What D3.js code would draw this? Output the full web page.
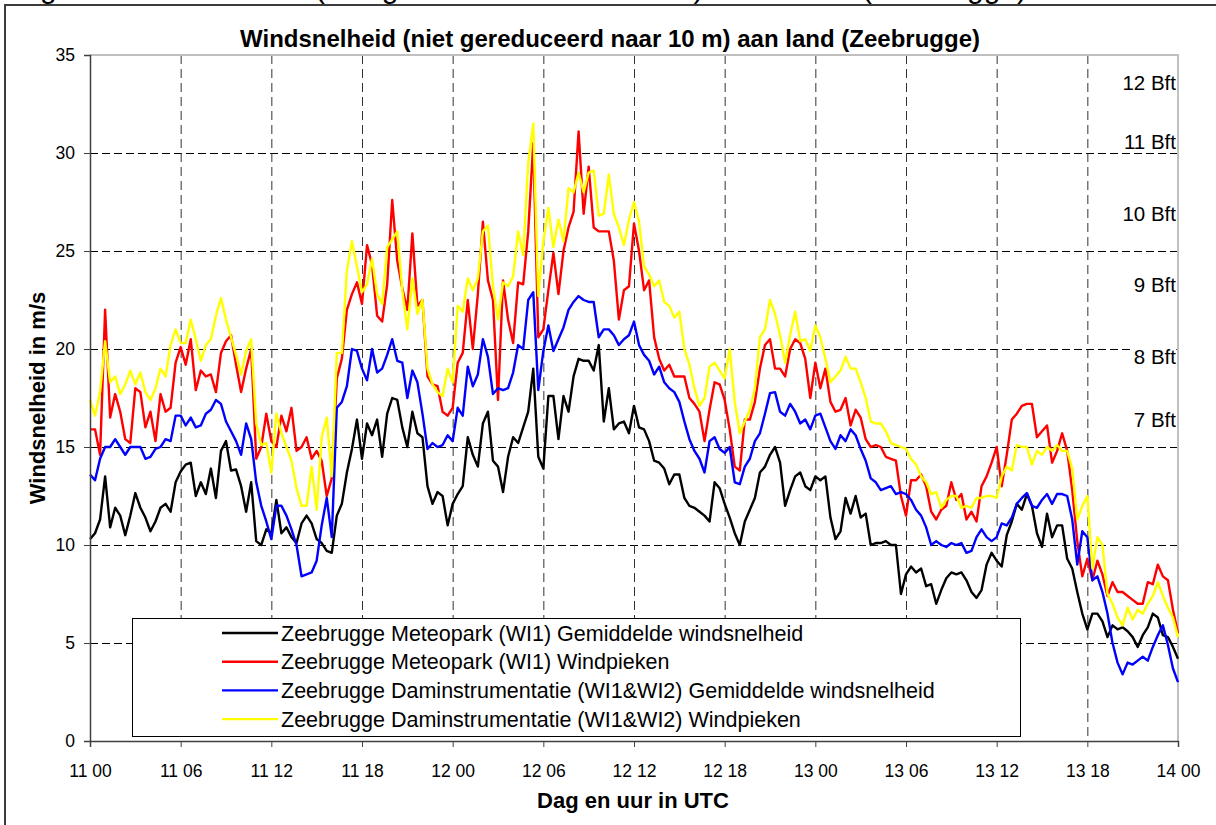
<!DOCTYPE html>
<meta charset="utf-8" />
<head>
  <style>
    body {margin: 0; background: #fff;}
    svg text {font-family: "Liberation Sans", Arial, sans-serif; fill: #000;}
    .grid line {stroke: #000; stroke-width: 1; stroke-dasharray: 8,4;}
    .vgrid line {stroke: #333; stroke-width: 1; stroke-dasharray: 9,5;}
    .serie {fill: none; stroke-width: 2.4; stroke-linejoin: round;}
    .as line, .as path {stroke: #404040;}
  </style>
  <script src="https://cdn.jsdelivr.net/npm/d3@7"></script>
</head>
<body>
<script>
  // metingen om de 20 minuten, 11/00 tot 14/00 UTC
  var stapMinuten = 20;

  var meteoGem = [
    10.3, 10.6, 11.3, 13.5, 10.9, 11.9, 11.5, 10.5, 11.5, 12.65,
    11.9, 11.4, 10.7, 11.2, 11.9, 12.1, 11.7, 13.2, 13.75, 14.1,
    14.2, 12.5, 13.2, 12.6, 13.9, 12.4, 14.8, 15.3, 13.8, 13.85,
    13.0, 11.7, 13.2, 10.2, 10.0, 10.8, 10.6, 12.3, 10.6, 10.9,
    10.4, 10.1, 11.1, 11.5, 11.1, 10.3, 10.1, 9.7, 9.6, 11.5,
    12.1, 13.7, 14.9, 16.4, 14.4, 16.2, 15.6, 16.4, 14.5, 16.7,
    17.5, 17.4, 16.0, 15.0, 16.8, 15.7, 15.5, 13.0, 12.1, 12.7,
    12.5, 11.0, 12.1, 12.6, 13.0, 15.5, 14.6, 14.0, 16.2, 16.8,
    14.3, 14.0, 12.7, 14.5, 15.5, 15.2, 16.0, 16.8, 19.0, 14.5,
    13.9, 17.6, 17.6, 15.4, 17.6, 16.8, 18.6, 19.5, 19.4, 19.4,
    18.9, 20.2, 16.3, 18.0, 15.9, 16.2, 16.3, 15.7, 17.1, 16.0,
    15.9, 15.3, 14.3, 14.2, 13.9, 13.1, 13.6, 13.6, 12.4, 12.0,
    11.9, 11.7, 11.5, 11.2, 13.2, 12.9, 12.1, 11.4, 10.6, 10.0,
    11.2, 11.8, 12.4, 13.7, 14.0, 14.6, 15.0, 14.2, 12.0, 12.8,
    13.5, 13.7, 13.0, 12.8, 13.5, 13.3, 13.5, 11.4, 10.3, 10.7,
    12.4, 11.6, 12.5, 11.4, 11.6, 10.0, 10.1, 10.1, 10.2, 10.0,
    10.0, 7.5, 8.5, 8.9, 8.6, 8.8, 7.9, 8.0, 7.0, 7.7,
    8.3, 8.6, 8.5, 8.6, 8.2, 7.6, 7.3, 7.7, 9.0, 9.6,
    9.2, 8.9, 10.5, 11.2, 12.1, 11.8, 12.6, 12.0, 10.6, 9.9,
    11.6, 10.4, 11.0, 11.0, 9.3, 8.8, 7.6, 6.5, 5.7, 6.5,
    6.5, 6.1, 5.3, 5.9, 5.7, 5.8, 5.6, 5.3, 4.8, 5.4,
    5.8, 6.5, 6.3, 5.4, 5.3, 4.8, 4.2
  ];

  var meteoPiek = [
    15.9, 15.9, 14.6, 22.0, 16.5, 17.7, 16.8, 15.4, 15.2, 18.0,
    17.8, 16.0, 16.8, 15.3, 17.7, 16.8, 17.0, 19.3, 20.1, 19.2,
    20.5, 17.9, 18.9, 18.6, 18.7, 17.8, 19.8, 20.4, 20.7, 19.2,
    17.8, 19.0, 20.0, 14.4, 15.0, 16.7, 15.3, 15.0, 16.6, 15.8,
    17.0, 14.8, 15.0, 15.5, 14.4, 14.8, 14.3, 12.5, 13.4, 18.5,
    19.5, 22.0, 22.8, 23.4, 22.3, 25.3, 24.3, 21.7, 21.4, 23.3,
    27.6, 24.5, 23.1, 22.0, 25.9, 22.2, 22.5, 18.6, 18.2, 18.1,
    16.8, 16.6, 17.0, 19.3, 19.8, 22.5, 20.0, 22.8, 26.5, 23.5,
    22.5, 17.4, 23.5, 21.5, 20.3, 23.4, 23.3, 26.0, 30.5, 20.6,
    21.0, 23.0, 24.9, 22.8, 25.0, 26.2, 27.0, 31.1, 26.9, 29.3,
    26.2, 26.0, 26.0, 26.0, 24.5, 21.5, 23.0, 23.2, 26.4, 25.0,
    23.0, 23.5, 20.6, 19.5, 18.9, 19.2, 18.6, 18.6, 18.6, 17.5,
    17.2, 16.8, 15.3, 16.9, 18.3, 18.2, 17.4, 15.9, 14.0, 13.8,
    16.4, 16.4, 17.3, 19.0, 20.2, 20.5, 19.0, 19.0, 18.6, 20.0,
    20.5, 20.3, 19.5, 17.5, 19.3, 18.0, 19.0, 17.3, 16.8, 16.9,
    17.5, 16.1, 16.9, 16.5, 15.4, 15.0, 15.1, 15.0, 14.5, 14.4,
    14.3, 12.5, 11.5, 13.3, 13.3, 13.6, 13.0, 11.7, 11.3, 11.8,
    12.0, 13.2, 12.3, 12.6, 11.3, 11.7, 11.2, 13.0, 13.5, 14.2,
    15.0, 13.0, 14.6, 16.4, 16.7, 17.1, 17.2, 17.2, 15.5, 15.8,
    16.1, 14.2, 14.8, 15.7, 14.8, 12.8, 10.2, 8.4, 9.3, 8.2,
    9.2, 8.5, 7.4, 8.1, 7.6, 7.6, 7.4, 7.2, 7.0, 7.0,
    8.1, 8.0, 9.0, 8.4, 8.2, 6.7, 5.5
  ];

  var damGem = [
    13.6, 13.3, 14.4, 15.0, 15.0, 15.4, 15.0, 14.6, 15.0, 15.0,
    15.0, 14.4, 14.5, 14.9, 15.0, 15.4, 15.3, 16.6, 16.6, 16.1,
    16.5, 16.0, 16.1, 16.7, 16.9, 17.4, 17.2, 16.3, 15.8, 15.3,
    14.6, 16.2, 15.4, 13.2, 12.0, 11.2, 10.3, 12.0, 12.0, 11.5,
    10.8, 10.0, 8.4, 8.5, 8.6, 9.2, 11.0, 12.4, 10.4, 17.0,
    17.3, 18.1, 20.0, 19.9, 19.0, 18.4, 20.0, 18.8, 19.0, 19.7,
    20.5, 19.4, 19.3, 17.5, 18.9, 18.3, 16.7, 14.9, 15.2, 15.0,
    15.1, 15.6, 15.3, 17.0, 16.6, 19.1, 18.1, 18.7, 20.5, 19.6,
    17.7, 18.0, 17.9, 18.0, 18.8, 20.2, 20.0, 22.5, 22.9, 17.9,
    19.9, 21.2, 19.9, 20.5, 21.1, 22.0, 22.4, 22.7, 22.5, 22.4,
    22.4, 20.6, 21.0, 21.0, 20.7, 20.2, 20.5, 20.7, 21.4, 20.2,
    19.7, 19.4, 18.7, 19.1, 18.3, 18.0, 17.8, 17.3, 16.3, 15.4,
    14.8, 14.4, 13.7, 15.3, 15.5, 14.9, 14.7, 15.0, 13.2, 13.1,
    14.0, 14.4, 15.3, 15.7, 16.7, 17.75, 17.8, 16.8, 16.6, 17.2,
    16.8, 16.2, 16.4, 15.9, 16.6, 16.7, 16.0, 15.3, 14.9, 15.6,
    15.3, 15.9, 15.6, 14.9, 14.3, 13.4, 13.2, 12.8, 12.9, 13.0,
    12.6, 12.7, 12.6, 12.3, 11.8, 11.5, 10.9, 10.0, 10.2, 10.0,
    9.9, 10.1, 10.0, 10.1, 9.6, 9.7, 10.4, 10.8, 10.4, 10.2,
    10.4, 11.1, 11.0, 11.4, 12.1, 12.4, 12.65, 12.0, 11.9, 12.3,
    12.6, 12.1, 12.6, 12.6, 12.5, 11.3, 9.0, 10.7, 10.4, 8.2,
    8.4, 7.6, 6.5, 5.0, 4.0, 3.4, 4.0, 3.9, 4.1, 4.3,
    4.1, 4.8, 5.4, 5.9, 4.9, 3.7, 3.0
  ];

  var damPiek = [
    17.4, 16.6, 17.8, 20.4, 18.3, 18.6, 17.7, 18.2, 18.9, 18.2,
    18.8, 17.8, 17.4, 18.0, 19.0, 18.6, 20.2, 21.0, 20.3, 20.3,
    21.5, 20.5, 19.4, 20.2, 20.5, 21.7, 22.6, 21.5, 20.6, 19.7,
    18.7, 19.9, 20.5, 16.2, 15.1, 15.2, 13.7, 16.7, 15.7, 15.0,
    14.3, 12.9, 12.0, 12.0, 14.0, 11.8, 15.5, 16.5, 13.5, 19.8,
    19.8, 24.0, 25.5, 24.2, 22.9, 23.3, 24.6, 22.8, 22.3, 25.2,
    25.6, 26.0, 23.0, 21.0, 23.6, 21.8, 22.5, 19.0, 18.2, 17.8,
    17.6, 19.0, 18.3, 22.2, 21.9, 23.6, 23.0, 23.6, 26.0, 26.3,
    23.2, 21.5, 23.4, 23.2, 23.7, 26.0, 24.8, 29.5, 31.5, 22.7,
    25.5, 27.2, 25.2, 26.6, 25.5, 28.2, 28.0, 29.0, 28.0, 29.0,
    29.1, 26.8, 26.9, 28.9, 26.9, 26.2, 25.3, 26.6, 27.5, 26.5,
    24.2, 23.8, 23.2, 23.5, 22.4, 22.2, 21.6, 21.9, 20.0, 19.2,
    18.0, 17.1, 17.5, 19.1, 19.3, 18.9, 18.5, 20.0, 17.3, 15.7,
    16.3, 16.9, 18.0, 20.6, 21.0, 22.5, 21.8, 20.7, 19.3, 20.7,
    21.9, 20.4, 20.5, 19.9, 21.2, 20.6, 19.5, 18.3, 18.6, 18.9,
    19.6, 19.0, 19.0, 18.3, 17.5, 16.3, 16.2, 16.2, 15.8, 15.2,
    15.1, 15.0, 14.9, 14.4, 14.1, 13.5, 13.2, 12.6, 12.7, 11.9,
    12.3, 12.5, 12.5, 11.9, 12.0, 11.9, 12.4, 12.4, 12.5, 12.5,
    12.4, 13.5, 14.0, 13.8, 15.1, 15.0, 15.0, 14.1, 14.8, 14.6,
    15.0, 14.8, 15.1, 14.8, 14.8, 13.9, 11.3, 12.0, 12.5, 8.8,
    10.4, 10.0, 7.5, 7.0, 6.3, 5.9, 6.8, 6.2, 6.7, 6.5,
    7.0, 7.4, 8.1, 7.4, 6.8, 6.3, 5.3
  ];

  var reeksNamen = [
    "Zeebrugge Meteopark (WI1) Gemiddelde windsnelheid",
    "Zeebrugge Meteopark (WI1) Windpieken",
    "Zeebrugge Daminstrumentatie (WI1&WI2) Gemiddelde windsnelheid",
    "Zeebrugge Daminstrumentatie (WI1&WI2) Windpieken"
  ];
  var reeksKleuren = ["#000000", "#ff0000", "#0000ff", "#ffff00"];
  var reeksen = [meteoGem, meteoPiek, damGem, damPiek];

  var xTickUren = [0, 6, 12, 18, 24, 30, 36, 42, 48, 54, 60, 66, 72];
  var xTickLabels = ["11 00", "11 06", "11 12", "11 18", "12 00", "12 06", "12 12",
                     "12 18", "13 00", "13 06", "13 12", "13 18", "14 00"];
  var yTicks = [0, 5, 10, 15, 20, 25, 30, 35];

  var bftLabels = ["7 Bft", "8 Bft", "9 Bft", "10 Bft", "11 Bft", "12 Bft"];
  var bftWaarden = [16.4, 19.6, 23.3, 26.9, 30.6, 33.6];

  var W = 1216, H = 825;
  var plot = {left: 90, right: 1178, top: 55, bottom: 741};

  var x = d3.scaleLinear().domain([0, 72]).range([plot.left, plot.right]);
  var y = d3.scaleLinear().domain([0, 35]).range([plot.bottom, plot.top]);

  var svg = d3.select("body").append("svg")
    .attr("width", W)
    .attr("height", H);

  svg.append("rect").attr("width", W).attr("height", H).attr("fill", "#fff");

  // afgesneden bijschrift boven de grafiek (alleen onderkant zichtbaar)
  var kop = svg.append("text")
    .attr("y", -2.5)
    .style("font-size", "30px");
  kop.append("tspan").attr("x", 15).text("Figuur 3: Windsnelheid");
  kop.append("tspan").attr("x", 315).text("(niet gereduceerd naar 10 m)");
  kop.append("tspan").attr("x", 720).text("aan land");
  kop.append("tspan").attr("x", 862).text("(Zeebrugge)");

  // kader rond de grafiek
  svg.append("rect")
    .attr("x", 5).attr("y", 5)
    .attr("width", W + 20).attr("height", H + 20)
    .attr("fill", "none")
    .attr("stroke", "#3c3c3c")
    .attr("stroke-width", 2);

  svg.append("text")
    .attr("x", 610).attr("y", 47)
    .attr("text-anchor", "middle")
    .style("font-size", "24px")
    .style("font-weight", "bold")
    .text("Windsnelheid (niet gereduceerd naar 10 m) aan land (Zeebrugge)");

  // rasterlijnen
  svg.append("g").attr("class", "grid")
    .selectAll("line")
    .data(yTicks.filter(function(d) { return d > 0 && d < 35; }))
    .enter().append("line")
    .attr("x1", plot.left).attr("x2", plot.right)
    .attr("y1", function(d) { return y(d) + 0.5; })
    .attr("y2", function(d) { return y(d) + 0.5; });

  svg.append("g").attr("class", "vgrid")
    .selectAll("line")
    .data(xTickUren.filter(function(d) { return d > 0 && d < 72; }))
    .enter().append("line")
    .attr("x1", function(d) { return x(d) + 0.5; })
    .attr("x2", function(d) { return x(d) + 0.5; })
    .attr("y1", plot.top).attr("y2", plot.bottom);

  // grijze rand boven en rechts
  svg.append("path")
    .attr("d", "M" + plot.left + "," + plot.top + "H" + plot.right + "V" + plot.bottom)
    .attr("fill", "none")
    .attr("stroke", "#c0c0c0")
    .attr("stroke-width", 2);

  // Beaufort labels, met witte achtergrond
  var bft = svg.append("g").selectAll("g")
    .data(bftLabels)
    .enter().append("g")
    .attr("transform", function(d, i) { return "translate(1176," + y(bftWaarden[i]) + ")"; });
  var bftTekst = bft.append("text")
    .attr("dy", "0.36em")
    .attr("text-anchor", "end")
    .style("font-size", "20.5px")
    .text(function(d) { return d; });
  bft.insert("rect", "text")
    .each(function(d, i) {
      var b = bftTekst.nodes()[i].getBBox();
      d3.select(this)
        .attr("x", b.x - 1).attr("y", -8)
        .attr("width", b.width + 1).attr("height", 17)
        .attr("fill", "#fff");
    });

  // reeksen
  var lijn = d3.line()
    .x(function(d, i) { return x(i * stapMinuten / 60); })
    .y(function(d) { return y(d); });

  svg.append("g")
    .selectAll("path")
    .data(reeksen)
    .enter().append("path")
    .attr("class", "serie")
    .attr("stroke", function(d, i) { return reeksKleuren[i]; })
    .attr("d", lijn);

  // assen
  var yAs = svg.append("g").attr("class", "as")
    .attr("transform", "translate(" + plot.left + ",0)")
    .call(d3.axisLeft(y).tickValues(yTicks).tickSize(6).tickPadding(9));
  yAs.selectAll("text").style("font-size", "17.5px").style("font-family", "Liberation Sans, Arial, sans-serif");

  var xAs = svg.append("g").attr("class", "as")
    .attr("transform", "translate(0," + plot.bottom + ")")
    .call(d3.axisBottom(x).tickValues(xTickUren)
      .tickFormat(function(d, i) { return xTickLabels[i]; })
      .tickSize(6).tickPadding(18));
  xAs.selectAll("text").style("font-size", "17.5px").style("font-family", "Liberation Sans, Arial, sans-serif");
  xAs.select(".domain").attr("stroke-width", 1.5);
  yAs.select(".domain").attr("stroke-width", 1.5);

  svg.append("text")
    .attr("x", 633).attr("y", 808)
    .attr("text-anchor", "middle")
    .style("font-size", "22px")
    .style("font-weight", "bold")
    .text("Dag en uur in UTC");

  svg.append("text")
    .attr("transform", "translate(45," + ((plot.top + plot.bottom) / 2) + ") rotate(-90)")
    .attr("text-anchor", "middle")
    .style("font-size", "22px")
    .style("font-weight", "bold")
    .text("Windsnelheid in m/s");

  // legenda
  var leg = svg.append("g");
  leg.append("rect")
    .attr("x", 132.5).attr("y", 618.5)
    .attr("width", 888).attr("height", 118)
    .attr("fill", "#fff")
    .attr("stroke", "#000");

  var rij = leg.selectAll("g.rij")
    .data(reeksNamen)
    .enter().append("g")
    .attr("class", "rij")
    .attr("transform", function(d, i) { return "translate(0," + (633 + i * 28.7) + ")"; });
  rij.append("line")
    .attr("x1", 222).attr("x2", 278)
    .attr("stroke", function(d, i) { return reeksKleuren[i]; })
    .attr("stroke-width", 2.4);
  rij.append("text")
    .attr("x", 281)
    .attr("dy", "0.36em")
    .style("font-size", "21.5px")
    .text(function(d) { return d; });
</script>
</body>
